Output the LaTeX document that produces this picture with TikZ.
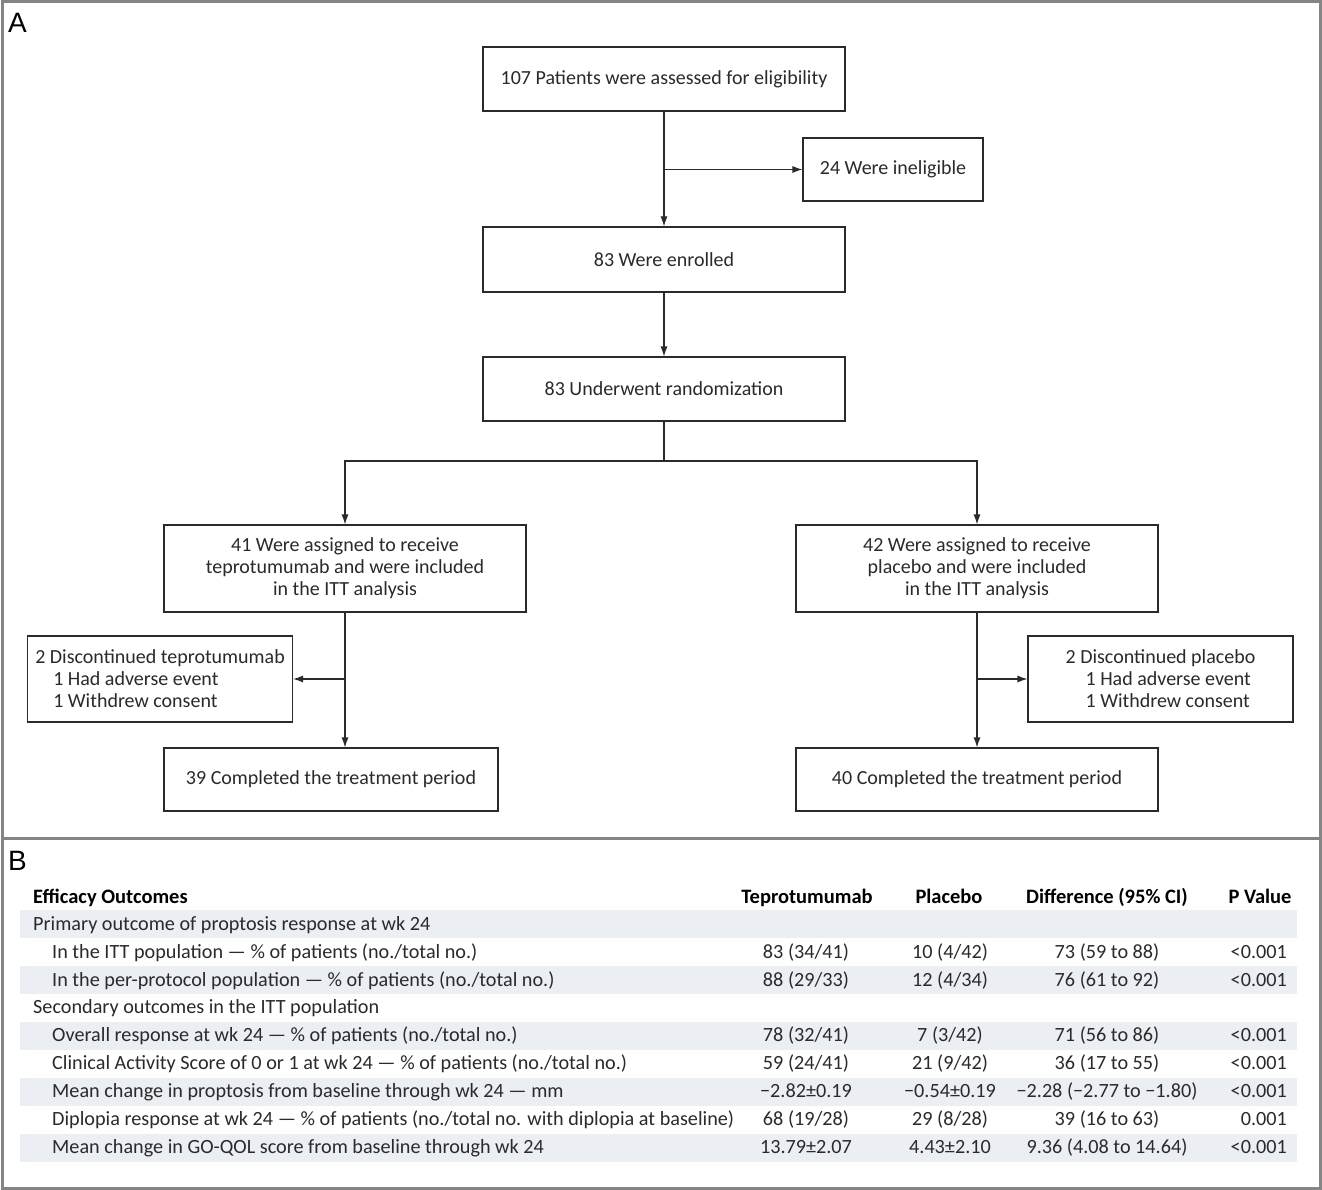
\documentclass[tikz,border=0pt]{standalone}
\usepackage{fontspec}
\setmainfont{Carlito}
\newfontfamily\panelfont{Liberation Sans}
\usetikzlibrary{arrows.meta}
\definecolor{frame}{HTML}{858585}
\definecolor{ink}{HTML}{2A2A2A}
\definecolor{stripe}{HTML}{EBEEF2}
\begin{document}
\begin{tikzpicture}[x=1pt,y=-1pt,
  font=\fontsize{20}{22}\selectfont,
  box/.style={draw=ink,line width=1.1pt,inner sep=0pt,align=center,text=ink,fill=white},
  flowline/.style={draw=ink,line width=1.1pt},
  flowarr/.style={draw=ink,line width=1.1pt,-{Latex[length=10pt,width=7pt]}},
  cell/.style={text=ink,inner sep=0pt,anchor=base,font=\fontsize{20.2}{22}\selectfont},
  head/.style={text=black,inner sep=0pt,anchor=base,font=\fontsize{20.5}{22}\selectfont\bfseries}]
\useasboundingbox (0,0) rectangle (1322,1190);
\fill[white] (0,0) rectangle (1322,1190);
% frames
\draw[frame,line width=3pt] (2,2) rectangle (1320,1188);
\draw[frame,line width=3pt] (2,838) -- (1320,838);
\node[font=\panelfont\fontsize{28}{30}\selectfont,anchor=base west,inner sep=0pt] (labA) at (8,33) {A};
\node[font=\panelfont\fontsize{28}{30}\selectfont,anchor=base west,inner sep=0pt] (labB) at (8,870) {B};
% flowchart
\node[box,minimum width=362pt,minimum height=64pt] (b1) at (664,79) {107 Patients were assessed for eligibility};
\node[box,minimum width=180pt,minimum height=63pt] (inel) at (893,169.5) {24 Were ineligible};
\node[box,minimum width=362pt,minimum height=65pt] (b2) at (664,259.5) {83 Were enrolled};
\node[box,minimum width=362pt,minimum height=64pt] (b3) at (664,389) {83 Underwent randomization};
\node[box,minimum width=362pt,minimum height=87pt] (armL) at (345,568.5) {41 Were assigned to receive\\teprotumumab and were included\\in the ITT analysis};
\node[box,minimum width=362pt,minimum height=87pt] (armR) at (977,568.5) {42 Were assigned to receive\\placebo and were included\\in the ITT analysis};
\node[box,minimum width=265pt,minimum height=86pt,align=left,anchor=west] (discL) at (27,679) {2 Discontinued teprotumumab\\\hspace*{18pt}1 Had adverse event\\\hspace*{18pt}1 Withdrew consent};
\node[box,minimum width=265pt,minimum height=86pt,align=left] (discR) at (1160.5,679) {2 Discontinued placebo\\\hspace*{20pt}1 Had adverse event\\\hspace*{20pt}1 Withdrew consent};
\node[box,minimum width=334pt,minimum height=63pt] (doneL) at (331,779.5) {39 Completed the treatment period};
\node[box,minimum width=362pt,minimum height=63pt] (doneR) at (977,779.5) {40 Completed the treatment period};
\coordinate (split) at (664,461);
\draw[flowarr] (b1) -- (b2);
\draw[flowarr] (b1.south |- inel.west) -- (inel.west);
\draw[flowarr] (b2) -- (b3);
\draw[flowline] (b3.south) -- (split);
\draw[flowarr] (split) -| (armL.north);
\draw[flowarr] (split) -| (armR.north);
\draw[flowarr] (armL.south) -- (armL.south |- doneL.north);
\draw[flowarr] (armL.south |- discL.east) -- (discL.east);
\draw[flowarr] (armR.south) -- (armR.south |- doneR.north);
\draw[flowarr] (armR.south |- discR.west) -- (discR.west);
% table stripes
\foreach \y in {910,966,1022,1078,1134}
  \fill[stripe] (20,\y) rectangle (1297,\y+28);
% header
\node[head,anchor=base west] (hOut) at (33,903) {Efficacy Outcomes};
\node[head] (hTep) at (807,903) {Teprotumumab};
\node[head] (hPla) at (949,903) {Placebo};
\node[head] (hDif) at (1107,903) {Difference (95\% CI)};
\node[head] (hP) at (1260,903) {P Value};
% rows
\node[cell,anchor=base west] (r1) at (33,930) {Primary outcome of proptosis response at wk 24};
\node[cell,anchor=base west] (r2) at (52,958) {In the ITT population — \% of patients (no./total no.)};
\node[cell,anchor=base west] (r3) at (52,986) {In the per-protocol population — \% of patients (no./total no.)};
\node[cell,anchor=base west] (r4) at (33,1013) {Secondary outcomes in the ITT population};
\node[cell,anchor=base west] (r5) at (52,1041) {Overall response at wk 24 — \% of patients (no./total no.)};
\node[cell,anchor=base west] (r6) at (52,1069) {Clinical Activity Score of 0 or 1 at wk 24 — \% of patients (no./total no.)};
\node[cell,anchor=base west] (r7) at (52,1097) {Mean change in proptosis from baseline through wk 24 — mm};
\node[cell,anchor=base west] (r8) at (52,1125) {Diplopia response at wk 24 — \% of patients (no./total no. with diplopia at baseline)};
\node[cell,anchor=base west] (r9) at (52,1153) {Mean change in GO-QOL score from baseline through wk 24};
% values
\foreach \yy/\a/\b/\c/\d in {
  958/{83 (34/41)}/{10 (4/42)}/{73 (59 to 88)}/{<0.001},
  986/{88 (29/33)}/{12 (4/34)}/{76 (61 to 92)}/{<0.001},
  1041/{78 (32/41)}/{7 (3/42)}/{71 (56 to 86)}/{<0.001},
  1069/{59 (24/41)}/{21 (9/42)}/{36 (17 to 55)}/{<0.001},
  1097/{−2.82±0.19}/{−0.54±0.19}/{−2.28 (−2.77 to −1.80)}/{<0.001},
  1125/{68 (19/28)}/{29 (8/28)}/{39 (16 to 63)}/{0.001},
  1153/{13.79±2.07}/{4.43±2.10}/{9.36 (4.08 to 14.64)}/{<0.001}}{
  \node[cell] (t\yy) at (806,\yy) {\a};
  \node[cell] (p\yy) at (950,\yy) {\b};
  \node[cell] (d\yy) at (1107,\yy) {\c};
  \node[cell,anchor=base east] (v\yy) at (1287,\yy) {\d};
}
\end{tikzpicture}
\end{document}
